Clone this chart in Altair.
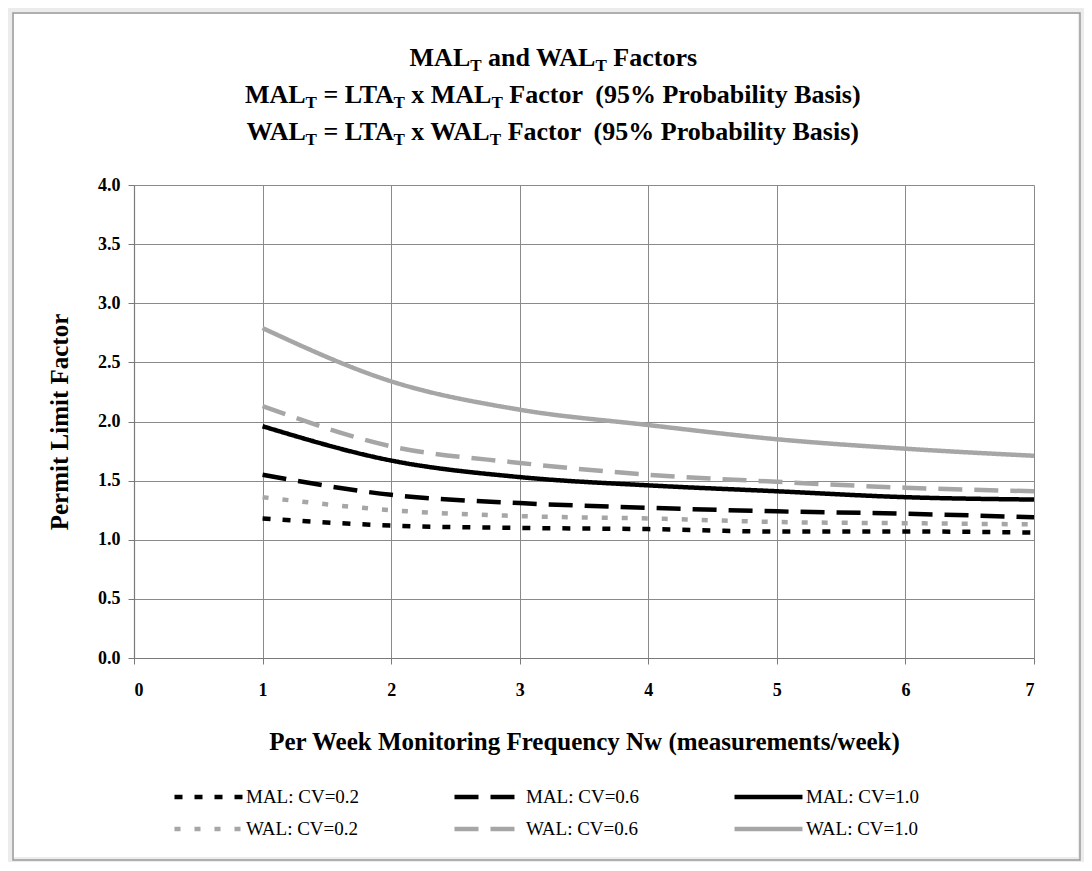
import altair as alt
import pandas as pd

# ---------------- data ----------------
x_values = [1, 2, 3, 4, 5, 6, 7]
mal_cv02 = [1.18, 1.12, 1.10, 1.09, 1.07, 1.07, 1.06]
wal_cv02 = [1.36, 1.25, 1.20, 1.18, 1.15, 1.14, 1.13]
mal_cv06 = [1.55, 1.38, 1.31, 1.27, 1.24, 1.22, 1.19]
wal_cv06 = [2.13, 1.79, 1.65, 1.55, 1.49, 1.44, 1.41]
mal_cv10 = [1.96, 1.67, 1.53, 1.46, 1.41, 1.36, 1.34]
wal_cv10 = [2.79, 2.34, 2.10, 1.97, 1.85, 1.77, 1.71]

series_names = ["MAL: CV=0.2", "MAL: CV=0.6", "MAL: CV=1.0",
                "WAL: CV=0.2", "WAL: CV=0.6", "WAL: CV=1.0"]
series_values = [mal_cv02, mal_cv06, mal_cv10, wal_cv02, wal_cv06, wal_cv10]
series_colors = ["#000000", "#000000", "#000000", "#a6a6a6", "#a6a6a6", "#a6a6a6"]
series_dash = [[8, 12], [24, 12], [1, 0], [6, 14], [24, 12], [1, 0]]
series_width = [4.5, 4.5, 3.5, 3, 4, 3]

x_ticks = [0, 1, 2, 3, 4, 5, 6, 7]
y_ticks = [0, 0.5, 1.0, 1.5, 2.0, 2.5, 3.0, 3.5, 4.0]

x_title = "Per Week Monitoring Frequency Nw (measurements/week)"
y_title = "Permit Limit Factor"

# title lines as (text, is_subscript) segments
title_lines = [
    [("MAL", 0), ("T", 1), (" and WAL", 0), ("T", 1), (" Factors", 0)],
    [("MAL", 0), ("T", 1), (" = LTA", 0), ("T", 1), (" x MAL", 0), ("T", 1),
     (" Factor", 0), ("  (95% Probability Basis)", 0)],
    [("WAL", 0), ("T", 1), (" = LTA", 0), ("T", 1), (" x WAL", 0), ("T", 1),
     (" Factor", 0), ("  (95% Probability Basis)", 0)],
]

rows = []
for name, vals in zip(series_names, series_values):
    for xv, yv in zip(x_values, vals):
        rows.append({"series": name, "x": xv, "value": yv})
df = pd.DataFrame(rows)

# ---------------- layout ----------------
PW, PH = 900, 473
FONT = "Liberation Serif"
TITLE_SIZE, SUB_SIZE = 26, 17
GRID = "#8a8a8a"

# Times Bold advance widths (per 1000 em) and kerning pairs
BOLD_W = {" ": 250, "(": 333, ")": 333, "%": 1000, "5": 500, "9": 500, "=": 570,
          "A": 722, "B": 667, "F": 611, "L": 667, "M": 944, "P": 611, "T": 667,
          "W": 1000, "a": 500, "b": 556, "c": 444, "d": 556, "i": 278, "l": 278,
          "n": 556, "o": 500, "r": 444, "s": 389, "t": 333, "x": 500, "y": 500}
KERN = {"LT": -92, "TA": -90, "WA": -120, "Fa": -25}


def tw(s, size):
    w = sum(BOLD_W.get(c, 500) for c in s)
    w += sum(KERN.get(s[i:i + 2], 0) for i in range(len(s) - 1))
    return w * size / 1000.0


one = pd.DataFrame({"k": [0]})
title_layers = []
center_x = 553 - 134
baselines = [-119, -82, -45]
for line, base in zip(title_lines, baselines):
    total = sum(tw(t, SUB_SIZE if s else TITLE_SIZE) for t, s in line)
    cur = center_x - total / 2
    for t, s in line:
        size = SUB_SIZE if s else TITLE_SIZE
        lead = len(t) - len(t.lstrip(" "))
        xpos = cur + tw(" " * lead, size)
        title_layers.append(
            alt.Chart(one).mark_text(
                text=t.strip(" "), align="left", baseline="alphabetic", font=FONT,
                fontWeight="bold", fontSize=size, color="black"
            ).encode(x=alt.value(xpos), y=alt.value(base + (5 if s else 0)))
        )
        cur += tw(t, size)

# outer grey margin and thin chart frame (no fill, so axes stay visible)
margin = alt.Chart(one).mark_rect(fill=None, stroke="#ececec", strokeWidth=12).encode(
    x=alt.value(-126), x2=alt.value(950), y=alt.value(-177), y2=alt.value(678)
)
frame = alt.Chart(one).mark_rect(fill=None, stroke="#9a9a9a", strokeWidth=1.5).encode(
    x=alt.value(-121), x2=alt.value(946), y=alt.value(-172), y2=alt.value(675)
)

legend = alt.Legend(
    title=None, orient="none", legendX=38, legendY=602, columns=3, direction="horizontal",
    symbolType="stroke", symbolSize=4624, clipHeight=20, labelFont=FONT, labelFontSize=19,
    labelColor="black", labelOffset=1, columnPadding=92, rowPadding=12,
    labelLimit=300, padding=0,
)

lines = alt.Chart(df).mark_line(interpolate="monotone").encode(
    x=alt.X("x:Q", scale=alt.Scale(domain=[0, 7], nice=False),
            axis=alt.Axis(values=x_ticks, format="d", title=x_title,
                          labelPadding=17, titlePadding=30)),
    y=alt.Y("value:Q", scale=alt.Scale(domain=[0, 4], nice=False),
            axis=alt.Axis(values=y_ticks, format=".1f", title=y_title,
                          labelPadding=8, titlePadding=25)),
    color=alt.Color("series:N", scale=alt.Scale(domain=series_names, range=series_colors),
                    legend=legend),
    strokeDash=alt.StrokeDash("series:N", scale=alt.Scale(domain=series_names, range=series_dash),
                              legend=legend),
    strokeWidth=alt.StrokeWidth("series:N", scale=alt.Scale(domain=series_names, range=series_width),
                                legend=legend),
)

chart = alt.layer(margin, frame, lines, *title_layers).properties(
    width=PW, height=PH,
    autosize=alt.AutoSizeParams(type="none"),
    padding={"left": 126, "top": 177, "right": 50, "bottom": 204},
    background="white",
).configure_view(stroke=None).configure_axis(
    grid=True, gridColor=GRID, gridWidth=1, gridOpacity=1,
    domainColor="#7a7a7a", domainWidth=1.2, tickColor="#7a7a7a", tickSize=6,
    labelFont=FONT, labelFontWeight="bold", labelFontSize=18, labelColor="black",
    titleFont=FONT, titleFontWeight="bold", titleFontSize=25, titleColor="black",
)

chart.save("out.html", embed_options={"renderer": "svg", "actions": False})
